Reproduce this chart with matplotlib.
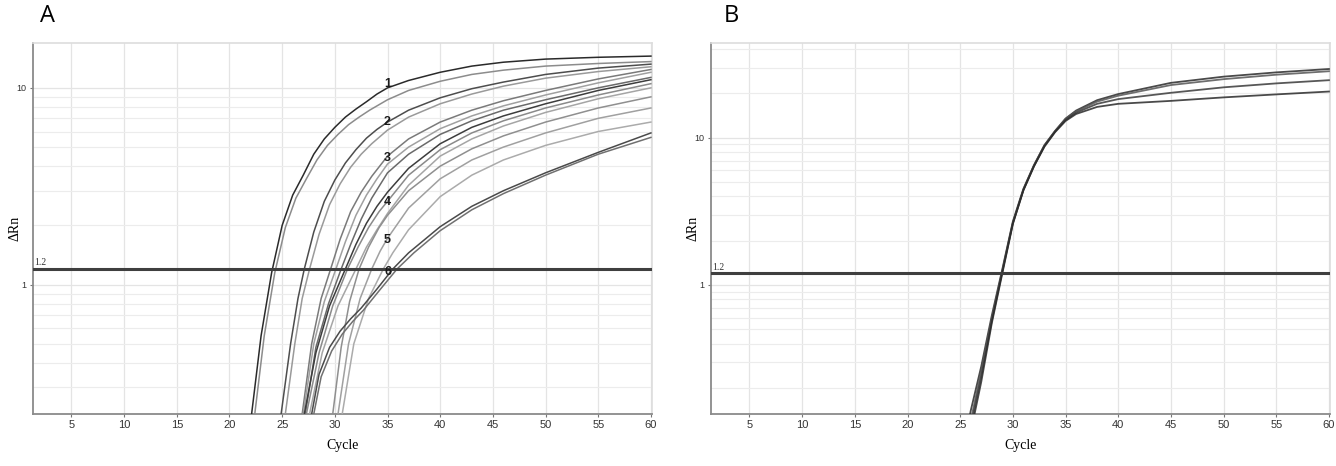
import matplotlib

matplotlib.use("Agg")
import matplotlib.pyplot as plt
from matplotlib.ticker import FixedLocator, FuncFormatter, LogLocator, NullFormatter

# threshold line
threshold = 1.2
x_ticks = [5, 10, 15, 20, 25, 30, 35, 40, 45, 50, 55, 60]

# panel A: amplification curves of the dilution series (cycle, delta Rn)
a_cycles = [
    [21.5, 22.1, 23, 24, 25, 26, 27, 28, 29, 30, 31, 32, 33, 34, 35, 37, 40, 43, 46, 50, 55, 60],
    [21.8, 22.4, 23.3, 24.3, 25.3, 26.3, 27.3, 28.3, 29.3, 30.3, 31.3, 32.3, 33.3, 35, 37, 40, 43, 46, 50, 55, 60],
    [24.3, 24.9, 25.8, 26.5, 27.1, 28, 29, 30, 31, 32, 33, 34, 35, 37, 40, 43, 46, 50, 55, 60],
    [24.7, 25.3, 26.2, 26.9, 27.6, 28.5, 29.5, 30.5, 31.5, 32.5, 33.5, 35, 37, 40, 43, 46, 50, 55, 60],
    [26.3, 26.9, 27.8, 28.7, 29.6, 30.5, 31.5, 32.5, 33.5, 35, 37, 40, 43, 46, 50, 55, 60],
    [26.4, 27.0, 28.0, 29.0, 30.1, 31.0, 32.0, 33.0, 34.0, 35, 37, 40, 43, 46, 50, 55, 60],
    [26.6, 27.2, 28.2, 29.4, 30.6, 31.5, 32.5, 33.5, 35, 37, 40, 43, 46, 50, 55, 60],
    [26.5, 27.1, 28.2, 29.5, 31.0, 32, 33, 34, 35, 37, 40, 43, 46, 50, 55, 60],
    [26.7, 27.3, 28.5, 29.8, 31.2, 32.2, 33.2, 34.2, 35, 37, 40, 43, 46, 50, 55, 60],
    [27.0, 27.6, 28.8, 30.3, 32.0, 33, 34, 35, 37, 40, 43, 46, 50, 55, 60],
    [29.3, 29.8, 30.6, 31.4, 32.3, 33.2, 34.2, 35, 37, 40, 43, 46, 50, 55, 60],
    [29.8, 30.3, 31.3, 32.4, 33.5, 34.3, 35, 37, 40, 43, 46, 50, 55, 60],
    [30.2, 30.7, 31.8, 33.2, 34.6, 35.5, 37, 40, 43, 46, 50, 55, 60],
    [27.4, 27.8, 28.5, 29.5, 30.5, 31.5, 32.5, 34, 35.5, 37, 40, 43, 46, 50, 55, 60],
    [27.6, 28.0, 28.7, 29.7, 30.7, 31.7, 32.7, 34.2, 35.9, 37.5, 40, 43, 46, 50, 55, 60],
]
a_values = [
    [0.12, 0.22, 0.55, 1.15, 2.0, 2.85, 3.6, 4.6, 5.5, 6.3, 7.1, 7.8, 8.5, 9.3, 10.0, 10.9, 12.0, 12.9, 13.5, 14.0, 14.3, 14.5],
    [0.12, 0.22, 0.55, 1.15, 1.95, 2.75, 3.45, 4.3, 5.1, 5.8, 6.5, 7.1, 7.7, 8.7, 9.7, 10.8, 11.7, 12.3, 12.9, 13.3, 13.6],
    [0.12, 0.22, 0.5, 0.85, 1.2, 1.85, 2.65, 3.4, 4.15, 4.85, 5.55, 6.15, 6.7, 7.7, 8.9, 9.9, 10.7, 11.7, 12.6, 13.2],
    [0.12, 0.22, 0.5, 0.85, 1.2, 1.8, 2.55, 3.25, 3.95, 4.6, 5.2, 6.1, 7.1, 8.3, 9.3, 10.2, 11.2, 12.1, 12.8],
    [0.12, 0.22, 0.5, 0.85, 1.2, 1.7, 2.35, 2.95, 3.55, 4.5, 5.5, 6.7, 7.7, 8.6, 9.7, 11.1, 12.4],
    [0.12, 0.22, 0.5, 0.82, 1.2, 1.65, 2.25, 2.85, 3.45, 4.1, 5.0, 6.2, 7.2, 8.1, 9.2, 10.6, 12.0],
    [0.12, 0.22, 0.48, 0.8, 1.2, 1.6, 2.15, 2.75, 3.7, 4.6, 5.8, 6.8, 7.7, 8.7, 10.0, 11.3],
    [0.12, 0.22, 0.45, 0.78, 1.2, 1.6, 2.05, 2.5, 2.95, 3.9, 5.2, 6.3, 7.2, 8.3, 9.7, 11.0],
    [0.12, 0.22, 0.45, 0.78, 1.2, 1.55, 1.95, 2.35, 2.65, 3.6, 4.85, 5.9, 6.8, 7.9, 9.2, 10.5],
    [0.12, 0.22, 0.45, 0.78, 1.2, 1.55, 1.9, 2.3, 3.2, 4.5, 5.5, 6.4, 7.5, 8.8, 10.0],
    [0.12, 0.22, 0.48, 0.82, 1.2, 1.55, 1.95, 2.25, 3.0, 4.0, 4.9, 5.7, 6.7, 7.9, 9.0],
    [0.12, 0.22, 0.5, 0.85, 1.2, 1.48, 1.72, 2.45, 3.45, 4.3, 5.0, 5.9, 7.0, 7.9],
    [0.12, 0.22, 0.5, 0.85, 1.2, 1.45, 1.9, 2.8, 3.6, 4.3, 5.1, 6.0, 6.7],
    [0.12, 0.22, 0.35, 0.48, 0.58, 0.67, 0.76, 0.95, 1.2, 1.45, 1.97, 2.5, 3.0, 3.7, 4.7, 5.9],
    [0.12, 0.22, 0.34, 0.46, 0.56, 0.65, 0.74, 0.93, 1.2, 1.45, 1.88, 2.4, 2.9, 3.6, 4.6, 5.6],
]
a_colors = ["#2a2a2a", "#8c8c8c", "#4d4d4d", "#9a9a9a", "#7a7a7a", "#a0a0a0", "#6a6a6a",
            "#3d3d3d", "#8a8a8a", "#a5a5a5", "#8f8f8f", "#a0a0a0", "#ababab", "#4a4a4a", "#707070"]

# dilution labels on panel A
label_text = ["1", "2", "3", "4", "5", "6"]
label_x = [35, 35, 35, 35, 35, 35]
label_y = [10.4, 6.7, 4.4, 2.64, 1.69, 1.16]

# panel B: replicate curves
b_cycles = [25.5, 26, 27, 28, 29, 30, 31, 32, 33, 34, 35, 36, 38, 40, 45, 50, 55, 60]
b_values = [
    [0.09, 0.14, 0.28, 0.62, 1.28, 2.7, 4.5, 6.5, 8.9, 11.1, 13.5, 15.3, 18.0, 19.8, 23.6, 26.0, 27.8, 29.3],
    [0.08, 0.12, 0.26, 0.59, 1.25, 2.65, 4.45, 6.5, 8.9, 11.1, 13.4, 15.1, 17.6, 19.3, 22.8, 25.0, 26.8, 28.3],
    [0.07, 0.11, 0.24, 0.57, 1.23, 2.62, 4.4, 6.4, 8.8, 11.0, 13.2, 14.8, 17.0, 18.3, 20.2, 22.0, 23.4, 24.6],
    [0.06, 0.10, 0.22, 0.55, 1.2, 2.6, 4.4, 6.4, 8.7, 10.9, 13.0, 14.5, 16.2, 17.0, 17.8, 18.8, 19.7, 20.6],
]
b_colors = ["#2a2a2a", "#555555", "#3a3a3a", "#2a2a2a"]

SERIF = ["Liberation Serif", "DejaVu Serif"]
SANS = ["Liberation Sans", "DejaVu Sans"]


def style_axes(ax, ylim):
    ax.set_yscale("log")
    ax.set_xlim(1.35, 60.1)
    ax.set_ylim(*ylim)
    ax.xaxis.set_major_locator(FixedLocator(x_ticks))
    ax.yaxis.set_major_locator(LogLocator(base=10, numticks=10))
    ax.yaxis.set_major_formatter(FuncFormatter(lambda v, _: f"{v:g}"))
    ax.yaxis.set_minor_locator(LogLocator(base=10, subs=range(2, 10), numticks=20))
    ax.yaxis.set_minor_formatter(NullFormatter())
    ax.grid(True, which="major", color="#e4e4e4", linewidth=0.9)
    ax.grid(True, which="minor", axis="y", color="#ececec", linewidth=0.8)
    ax.set_axisbelow(True)
    ax.tick_params(axis="both", which="major", length=2.5, width=0.8, color="#777777",
                   labelsize=8, labelcolor="#333333", pad=2)
    ax.tick_params(axis="y", which="major", labelsize=6.5)
    ax.tick_params(axis="y", which="minor", length=0)
    for lbl in ax.get_xticklabels() + ax.get_yticklabels():
        lbl.set_family(SANS)
    for side in ("left", "bottom"):
        ax.spines[side].set_color("#8a8a8a")
        ax.spines[side].set_linewidth(1.3)
    for side in ("top", "right"):
        ax.spines[side].set_color("#dddddd")
        ax.spines[side].set_linewidth(1.2)
    ax.axhline(threshold, color="#3f3f3f", linewidth=2.2, zorder=5)
    ax.text(1.5, threshold * 1.02, "1.2", fontsize=7, family=SERIF, color="#333333",
            va="bottom", ha="left", zorder=6)
    ax.set_xlabel("Cycle", family=SERIF, fontsize=10, labelpad=6)
    ax.set_ylabel("ΔRn", family=SERIF, fontsize=10)
    ax.yaxis.set_label_coords(-0.018, 0.5)


fig = plt.figure(figsize=(13.36, 4.66), dpi=100)
ax_a = fig.add_axes([0.0247, 0.1116, 0.4633, 0.7961])
ax_b = fig.add_axes([0.5322, 0.1116, 0.4633, 0.7961])

style_axes(ax_a, (0.22, 16.9))
style_axes(ax_b, (0.133, 44))

for cyc, vals, col in zip(a_cycles, a_values, a_colors):
    ax_a.plot(cyc, vals, color=col, linewidth=1.1, zorder=3)

for txt, lx, ly in zip(label_text, label_x, label_y):
    ax_a.text(lx, ly, txt, fontsize=9, fontweight="bold", color="#1a1a1a", family=SANS,
              ha="center", va="center", zorder=7)

for vals, col in zip(b_values, b_colors):
    ax_b.plot(b_cycles, vals, color=col, linewidth=1.3, alpha=0.85, zorder=3)

fig.text(0.030, 0.965, "A", fontsize=17, family=["Open Sans", "DejaVu Sans"], va="center")
fig.text(0.542, 0.965, "B", fontsize=17, family=["Open Sans", "DejaVu Sans"], va="center")

fig.savefig("out.png", dpi=100)
